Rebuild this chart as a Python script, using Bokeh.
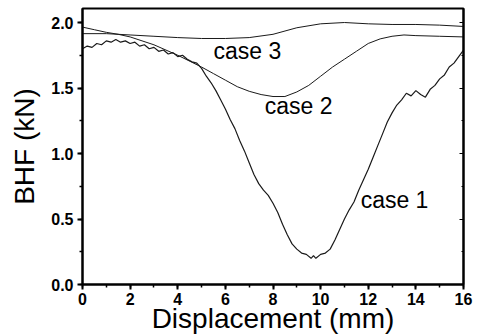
from bokeh.plotting import figure
from bokeh.models import LinearAxis, Range1d, FixedTicker, Label, NumeralTickFormatter, CustomJSTickFormatter
from bokeh.embed import file_html
from bokeh.resources import INLINE

# case 3 (upper, smooth)
x3 = [0, 1, 2, 3, 4, 5, 6, 7, 8, 9, 10, 11, 12, 13, 14, 15, 16]
y3 = [1.915, 1.915, 1.905, 1.895, 1.885, 1.878, 1.878, 1.885, 1.91, 1.96, 1.99, 2.0, 1.99, 1.985, 1.985, 1.98, 1.97]

# case 2 (middle dip)
x2 = [0, 0.5, 1, 1.5, 2, 3, 4, 5, 5.5, 6, 6.5, 7, 7.5, 8, 8.5, 9, 9.5, 10, 10.5, 11, 11.5, 12, 12.5, 13, 13.5, 14, 15, 16]
y2 = [1.965, 1.945, 1.925, 1.91, 1.89, 1.83, 1.75, 1.66, 1.61, 1.56, 1.51, 1.475, 1.45, 1.435, 1.435, 1.47, 1.52, 1.59, 1.66, 1.72, 1.78, 1.84, 1.875, 1.895, 1.905, 1.90, 1.895, 1.89]

# case 1 (deep dip, noisy)
x1 = [0, 0.2, 0.4, 0.6, 0.8, 1.0, 1.2, 1.4, 1.6, 1.8, 2.0, 2.2, 2.4, 2.6, 2.8, 3.0, 3.2, 3.4, 3.6, 3.8,
      4.0, 4.2, 4.4, 4.6, 4.8, 5.0, 5.2, 5.4, 5.6, 5.8, 6.0, 6.2, 6.4, 6.6, 6.8, 7.0, 7.2, 7.4, 7.6, 7.8,
      8.0, 8.2, 8.4, 8.6, 8.8, 9.0, 9.2, 9.4, 9.6, 9.7, 9.8, 10.0, 10.2, 10.4, 10.6, 10.8, 11.0, 11.2, 11.4, 11.6,
      11.8, 12.0, 12.2, 12.4, 12.6, 12.8, 13.0, 13.2, 13.4, 13.6, 13.8, 14.0, 14.2, 14.4, 14.6, 14.8, 15.0, 15.2, 15.4, 15.6,
      15.8, 16.0]
y1 = [1.80, 1.82, 1.81, 1.84, 1.83, 1.86, 1.85, 1.87, 1.85, 1.86, 1.84, 1.85, 1.82, 1.83, 1.80, 1.81, 1.78, 1.79, 1.76, 1.77,
      1.74, 1.75, 1.72, 1.70, 1.69, 1.65, 1.59, 1.54, 1.48, 1.41, 1.34, 1.26, 1.19, 1.10, 1.02, 0.93, 0.84, 0.77, 0.72, 0.68,
      0.62, 0.55, 0.46, 0.38, 0.31, 0.27, 0.24, 0.23, 0.20, 0.22, 0.20, 0.23, 0.24, 0.27, 0.34, 0.42, 0.50, 0.57, 0.63, 0.72,
      0.80, 0.88, 0.97, 1.06, 1.15, 1.24, 1.31, 1.37, 1.41, 1.46, 1.44, 1.48, 1.45, 1.43, 1.49, 1.52, 1.57, 1.60, 1.66, 1.69,
      1.74, 1.79]

labels = ["case 3", "case 2", "case 1"]
label_x = [5.5, 7.65, 11.68]
label_y = [1.78, 1.36, 0.645]

x_ticks = [0, 2, 4, 6, 8, 10, 12, 14, 16]
x_minor = list(range(0, 17))
y_ticks = [0.0, 0.5, 1.0, 1.5, 2.0]
y_minor = [0.25 * i for i in range(9)]

FONT = "Liberation Sans"

p = figure(width=477, height=336, output_backend="svg", toolbar_location=None,
           x_range=Range1d(0, 16), y_range=Range1d(0, 2.107),
           min_border_left=82, min_border_right=14, min_border_top=8, min_border_bottom=52)
p.grid.visible = False
p.outline_line_color = "black"
p.outline_line_width = 2
p.background_fill_color = "white"
p.border_fill_color = "white"

for ax in (p.xaxis[0], p.yaxis[0]):
    ax.axis_line_width = 2
    ax.axis_line_color = "black"
    ax.major_tick_out = 5
    ax.major_tick_in = 0
    ax.minor_tick_out = 3
    ax.minor_tick_in = 0
    ax.major_tick_line_width = 2
    ax.major_tick_line_color = "black"
    ax.minor_tick_line_width = 1.5
    ax.minor_tick_line_color = "black"
    ax.major_label_text_font = FONT
    ax.major_label_text_font_style = "bold"
    ax.major_label_text_font_size = "16px"
    ax.major_label_text_color = "black"
    ax.axis_label_text_font = FONT
    ax.axis_label_text_font_style = "normal"
    ax.axis_label_text_font_size = "28px"
    ax.axis_label_text_color = "black"

p.xaxis[0].ticker = FixedTicker(ticks=x_ticks, minor_ticks=x_minor)
p.yaxis[0].ticker = FixedTicker(ticks=y_ticks, minor_ticks=y_minor)
p.yaxis[0].formatter = NumeralTickFormatter(format="0.0")
p.xaxis[0].axis_label = "Displacement (mm)"
p.yaxis[0].axis_label = "BHF (kN)"
p.xaxis[0].major_label_standoff = 3
p.xaxis[0].axis_label_standoff = -5
p.yaxis[0].major_label_standoff = 4
p.yaxis[0].axis_label_standoff = 8

ra = LinearAxis(ticker=FixedTicker(ticks=y_ticks, minor_ticks=y_minor),
                formatter=CustomJSTickFormatter(code="return ''"),
                major_tick_in=4, major_tick_out=0, major_label_standoff=0,
                minor_tick_in=2, minor_tick_out=0, axis_line_width=2)
p.add_layout(ra, "right")

p.line(x3, y3, line_color="#1a1a1a", line_width=1)
p.line(x2, y2, line_color="#1a1a1a", line_width=1)
p.line(x1, y1, line_color="#1a1a1a", line_width=1.2)

for t, lx, ly in zip(labels, label_x, label_y):
    p.add_layout(Label(x=lx, y=ly, text=t, text_font=FONT, text_font_size="23px",
                       text_baseline="middle", text_color="black"))

open("out.html", "w").write(file_html(p, INLINE))
